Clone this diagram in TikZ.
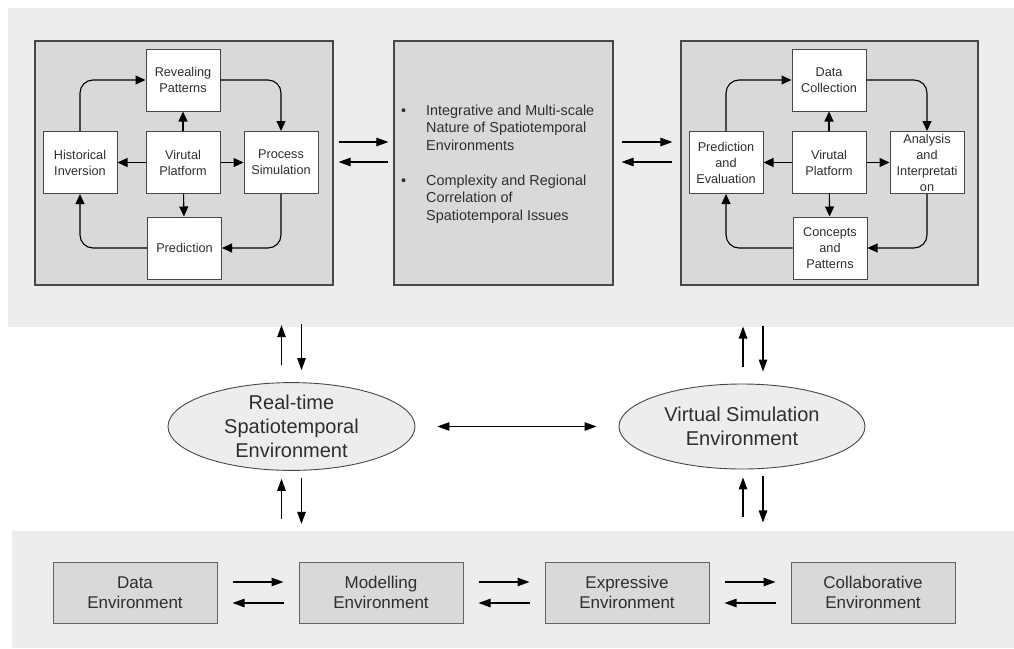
\documentclass[tikz,border=0pt]{standalone}
\usepackage{fontspec}
\setmainfont{Liberation Sans}
\usetikzlibrary{arrows.meta,shapes.geometric}
\definecolor{bandgray}{HTML}{EDEDED}
\definecolor{panelgray}{HTML}{D9D9D9}
\definecolor{edgegray}{HTML}{474747}
\definecolor{inkgray}{HTML}{2E2E2E}
\tikzstyle{band}=[rectangle,fill=bandgray,inner sep=0pt]
\tikzstyle{panel}=[rectangle,fill=panelgray,draw=edgegray,line width=1.2pt,minimum height=244pt,inner sep=0pt]
\tikzstyle{task}=[rectangle,fill=white,draw=edgegray,line width=1pt,minimum width=74pt,minimum height=62pt,inner sep=1pt,align=center,text=inkgray,font=\fontsize{12.7}{16}\selectfont]
\tikzstyle{env}=[ellipse,fill=bandgray,draw=edgegray,line width=0.9pt,minimum width=247pt,minimum height=85pt,inner sep=0pt,align=center,text=inkgray,font=\fontsize{20}{23.7}\selectfont]
\tikzstyle{layer}=[rectangle,fill=panelgray,draw=edgegray!85,line width=1pt,minimum width=164pt,minimum height=61pt,align=center,text=inkgray,font=\fontsize{17}{20.3}\selectfont]
\tikzstyle{flow}=[draw,line width=1.1pt,rounded corners=13pt,-{Triangle[length=10pt,width=9pt]}]
\tikzstyle{link}=[draw,line width=1.1pt,-{Triangle[length=12pt,width=8.5pt]}]
\tikzstyle{dlink}=[draw,line width=1.1pt,{Triangle[length=12pt,width=8.5pt]}-{Triangle[length=12pt,width=8.5pt]}]

\begin{document}
\begin{tikzpicture}[x=1pt,y=-1pt]
\useasboundingbox (0,0) rectangle (1014,648);

% the two gray bands and the three panels
\node[band,minimum width=1006pt,minimum height=319pt] (topband) at (511,167.5) {};
\node[band,minimum width=1002pt,minimum height=117pt] (botband) at (513,589.5) {};
\node[panel,minimum width=298pt] (lpanel) at (184,163) {};
\node[panel,minimum width=219pt] (mpanel) at (503.5,163) {};
\node[panel,minimum width=297pt] (rpanel) at (829.5,163) {};

% boxes of the two platforms
\foreach \pos/\name/\txt in {{(183,80)/reveal/{Revealing\\Patterns}}, {(80,162.5)/hist/{Historical\\Inversion}},
                          {(183,162.5)/vpl/{Virutal\\Platform}}, {(281,162.5)/proc/{Process\\Simulation}},
                          {(184.5,248)/pred/{Prediction}},
                          {(829,80)/dcol/{Data\\Collection}}, {(726,162.5)/prev/{Prediction\\and\\Evaluation}},
                          {(829,162.5)/vpr/{Virutal\\Platform}}, {(927,162.5)/anal/{Analysis\\and\\Interpretati\\on}},
                          {(830,248)/conc/{Concepts\\and\\Patterns}}}
  \node[task] (\name) at \pos {\txt};

% issues in the middle panel
\node[anchor=north west,inner sep=0pt,text=inkgray,font=\fontsize{14.4}{17.5}\selectfont] (issues) at (401,103)
  {\begin{tabular}{@{}p{25pt}@{}l@{}}
   \textbullet & Integrative and Multi-scale\\
               & Nature of Spatiotemporal\\
               & Environments\\
               & \\
   \textbullet & Complexity and Regional\\
               & Correlation of\\
               & Spatiotemporal Issues
   \end{tabular}};

% environments
\node[env] (rte) at (291.5,426.5) {Real-time\\Spatiotemporal\\Environment};
\node[env,minimum width=246pt] (vse) at (742,426.5) {Virtual Simulation\\Environment};
\foreach \pos/\name/\txt in {{(135,592.5)/denv/{Data\\Environment}}, {(381,592.5)/menv/{Modelling\\Environment}},
                          {(627,592.5)/xenv/{Expressive\\Environment}}, {(873,592.5)/cenv/{Collaborative\\Environment}}}
  \node[layer] (\name) at \pos {\txt};

% arrows inside the platforms
\foreach \src/\dest in {vpl/reveal, vpl/hist, vpl/proc, vpl/pred, vpr/dcol, vpr/prev, vpr/anal, vpr/conc}
  \path[flow] (\src) -- (\dest);
\foreach \src/\dest in {hist.north/reveal.west, proc.south/pred.east, prev.north/dcol.west, anal.south/conc.east}
  \path[flow] (\src) |- (\dest);
\foreach \src/\dest in {reveal.east/proc.north, pred.west/hist.south, dcol.east/anal.north, conc.west/prev.south}
  \path[flow] (\src) -| (\dest);

% arrows between the panels
\foreach \src/\dst/\gap in {lpanel/mpanel/5pt, mpanel/rpanel/8pt} {
  \path[link,shorten <=\gap,shorten >=\gap] ([yshift=21pt]\src.east) -- ([yshift=21pt]\dst.west);
  \path[link,shorten <=\gap,shorten >=\gap] ([yshift=1pt]\dst.west) -- ([yshift=1pt]\src.east);
}

% arrows to and from the bands
\foreach \ell/\up/\down in {rte/-10pt/10pt, vse/1pt/21pt} {
  \path[link] ([xshift=\up,yshift=17pt]\ell.north) -- ([xshift=\up,yshift=57pt]\ell.north);
  \path[link] ([xshift=\down,yshift=58pt]\ell.north) -- ([xshift=\down,yshift=12pt]\ell.north);
  \path[link] ([xshift=\up,yshift=-48pt]\ell.south) -- ([xshift=\up,yshift=-8pt]\ell.south);
  \path[link] ([xshift=\down,yshift=-7pt]\ell.south) -- ([xshift=\down,yshift=-53pt]\ell.south);
}
\path[dlink,shorten <=22pt,shorten >=22pt] (rte.east) -- (vse.west);

% arrows along the bottom band
\foreach \src/\dst in {denv/menv, menv/xenv, xenv/cenv} {
  \path[link,shorten <=15pt,shorten >=15pt] ([yshift=10.5pt]\src.east) -- ([yshift=10.5pt]\dst.west);
  \path[link,shorten <=15pt,shorten >=15pt] ([yshift=-10.5pt]\dst.west) -- ([yshift=-10.5pt]\src.east);
}
\end{tikzpicture}
\end{document}
